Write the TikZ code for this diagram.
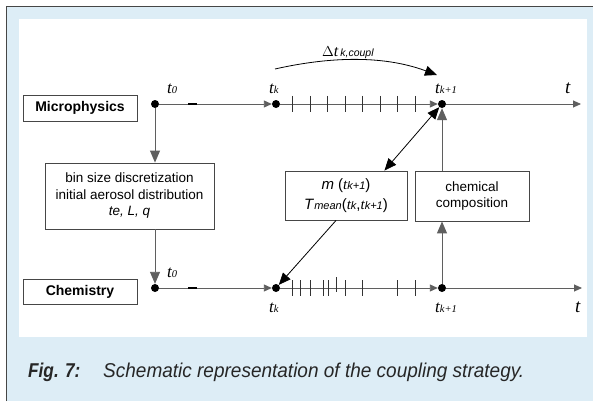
\documentclass[tikz,border=0pt]{standalone}
\usepackage{fontspec}
\setmainfont{Liberation Serif}
\setsansfont{Liberation Sans}
\newfontfamily\capfont[FakeStretch=0.95]{Liberation Sans}
\newfontfamily\figfont[FakeStretch=0.86]{Liberation Sans}
\usetikzlibrary{arrows.meta,calc}
\definecolor{bgblue}{RGB}{221,237,246}
\definecolor{linegray}{RGB}{95,95,95}
\definecolor{framegray}{RGB}{70,70,70}
\newcommand\tlab[1]{{\rmfamily\itshape\fontsize{17}{17}\selectfont t}{\rmfamily\itshape\fontsize{10.5}{10.5}\selectfont #1}}
\newcommand\tsub[1]{{\rmfamily\itshape\fontsize{15}{15}\selectfont t}{\sffamily\itshape\fontsize{11}{11}\selectfont #1}}
\begin{document}
\begin{tikzpicture}[x=1pt,y=-1pt,font=\sffamily,
  tl/.style={draw=linegray,line width=0.9pt},
  box/.style={draw=framegray,line width=0.9pt,fill=white,inner sep=0pt,align=center},
  dot/.style={circle,fill=black,inner sep=0pt,minimum size=8pt},
  smalltip/.style={-{Triangle[length=8pt,width=7pt]}},
  bigtip/.style={-{Triangle[length=12pt,width=10pt]}},
  lab/.style={inner sep=0pt,anchor=base west},
  tick/.style={draw=black!80,line width=0.8pt}]
\useasboundingbox (0,0) rectangle (593,401);
% background
\fill[bgblue] (6,6) rectangle (593,401);
\draw[framegray,line width=0.9pt] (6,401) -- (6,6) -- (593,6);
\fill[white] (19,19) rectangle (587,337);

% boxes
\node[box,minimum width=114pt,minimum height=26pt,font=\sffamily\bfseries\fontsize{14}{14}\selectfont] (micro) at (80,108) {Microphysics};
\node[box,minimum width=114pt,minimum height=25pt,font=\sffamily\bfseries\fontsize{14}{14}\selectfont] (chem) at (80,291.5) {Chemistry};
\node[box,minimum width=169pt,minimum height=66pt,font=\sffamily\fontsize{13.5}{16.5}\selectfont] (bin) at (129.5,196)
  {bin size discretization\\initial aerosol distribution\\\textit{te, L, q}};
\node[box,minimum width=122pt,minimum height=49pt,font=\sffamily\fontsize{15}{21}\selectfont] (mbox) at (346,195.5)
  {\textit{m} (\tsub{k+1})\\[-1pt]\textit{T}{\fontsize{11}{11}\selectfont\itshape mean}(\tsub{k},\tsub{k+1})};
\node[box,minimum width=114pt,minimum height=50pt,font=\sffamily\fontsize{13.5}{16}\selectfont] (comp) at (472,196)
  {chemical\\composition};

% dots
\node[dot] (mt0) at (155,104) {};
\node[dot] (mtk) at (276,104) {};
\node[dot] (mtk1) at (442,104) {};
\node[dot] (ct0) at (155,288) {};
\node[dot] (ctk) at (276,288) {};
\node[dot] (ctk1) at (442,288) {};
\coordinate (mend) at (581,104);
\coordinate (cend) at (582,288);

% timelines
\draw[tl,smalltip] (mt0) -- (mtk);
\draw[tl,smalltip] (mtk) -- (mtk1);
\draw[tl,smalltip] (mtk1) -- (mend);
\draw[tl,smalltip] (ct0) -- (ctk);
\draw[tl,smalltip] (ctk) -- (ctk1);
\draw[tl,smalltip] (ctk1) -- (cend);
\draw[black,line width=1.6pt] (188,104) -- (197,104);
\draw[black,line width=1.6pt] (188,288) -- (197,288);

% ticks
\foreach \x in {292,310,327,345,362,380,397,415}
  \draw[tick] (\x,96) -- (\x,112);
\foreach \x in {292,300,310,323,328,345,362,397,415}
  \draw[tick] (\x,280) -- (\x,296);
\draw[tick] (336,277) -- (336,292);

% labels
\node[lab] at (167,93) {\tlab{0}};
\node[lab] at (269,93) {\tlab{k}};
\node[lab] at (435,93) {\tlab{k+1}};
\node[lab] at (565,93) {{\rmfamily\itshape\fontsize{19}{19}\selectfont t}};
\node[lab] at (167,277) {\tlab{0}};
\node[lab] at (269,312) {\tlab{k}};
\node[lab] at (435,312) {\tlab{k+1}};
\node[lab] at (575,312) {{\rmfamily\itshape\fontsize{19}{19}\selectfont t}};
\node[lab] at (322,57) {{\sffamily\fontsize{14}{14}\selectfont$\Delta$}{\rmfamily\itshape\fontsize{16}{16}\selectfont t}\kern2pt{\sffamily\itshape\fontsize{10.5}{10.5}\selectfont k,coupl}};

% connectors
\draw[linegray,line width=0.9pt,bigtip] (mt0) -- (mt0 |- bin.north);
\draw[linegray,line width=0.9pt,bigtip] (bin.south -| ct0) -- (ct0);
\coordinate (dstart) at (275,69);
\coordinate (dend) at (437,75);
\draw[black,line width=0.8pt,bigtip] (dstart) .. controls (315,60) and (375,52) .. (dend);
\draw[black,line width=0.8pt,{Triangle[length=12pt,width=10pt]}-{Triangle[length=12pt,width=10pt]}] (mtk1) -- ([xshift=-23pt]mbox.north east);
\draw[black,line width=0.8pt,bigtip] ([xshift=-10pt]mbox.south) -- (ctk);
\draw[linegray,line width=1pt,bigtip] (comp.north -| mtk1) -- (mtk1);
\draw[linegray,line width=1pt,bigtip] (ctk1) -- (comp.south -| ctk1);

% caption
\node[lab,text=black!85,font=\figfont\bfseries\itshape\fontsize{20}{20}\selectfont] at (28,377) {Fig. 7:};
\node[lab,text=black!85,font=\capfont\itshape\fontsize{20}{20}\selectfont] at (103,377) {Schematic representation of the coupling strategy.};
\end{tikzpicture}
\end{document}
